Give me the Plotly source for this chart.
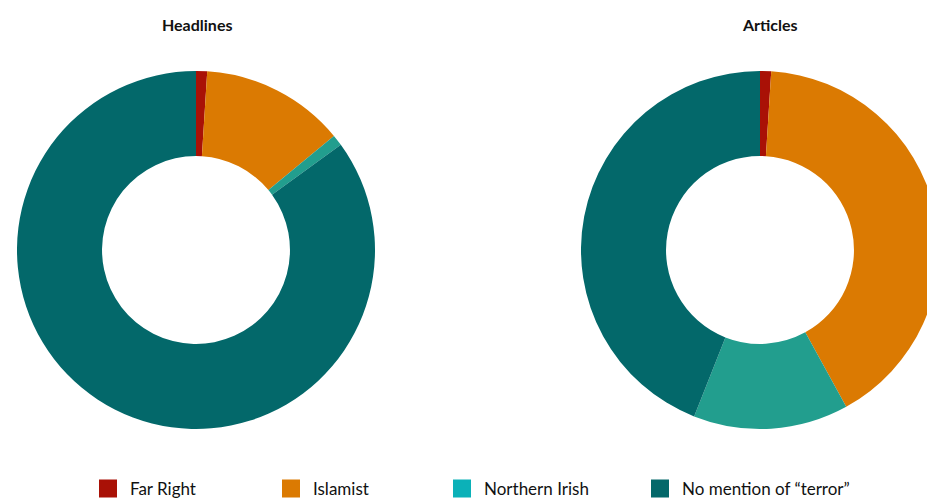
import plotly.graph_objects as go

categories = ["Far Right", "Islamist", "Northern Irish", "No mention of \u201cterror\u201d"]
headlines = [1, 13, 1, 85]
articles = [1, 41, 14, 44]
slice_colors = ["#A91106", "#DB7A02", "#229E8E", "#03686A"]
legend_colors = ["#A91106", "#DB7A02", "#0BB1B8", "#03686A"]

W, H = 935, 499
OFF = 8  # page body margin

def px(x):
    return (x - OFF) / W

def py(y):
    return 1 - (y - OFF) / H

def dom(cx, cy, r):
    return dict(x=[px(cx - r), px(cx + r)], y=[py(cy + r), py(cy - r)])

fig = go.Figure()
fig.add_trace(go.Pie(labels=categories, values=headlines, hole=0.525, sort=False,
                     direction="clockwise", rotation=0, textinfo="none",
                     marker=dict(colors=slice_colors, line=dict(width=0)),
                     domain=dom(196, 250, 179), showlegend=False, hoverinfo="label+percent"))
fig.add_trace(go.Pie(labels=categories, values=articles, hole=0.525, sort=False,
                     direction="clockwise", rotation=0, textinfo="none",
                     marker=dict(colors=slice_colors, line=dict(width=0)),
                     domain=dom(760, 250, 179), showlegend=False, hoverinfo="label+percent"))

legend_ids = ["legend", "legend2", "legend3", "legend4"]
legend_x = [86, 269, 440, 638]
for name, c, lid in zip(categories, legend_colors, legend_ids):
    fig.add_trace(go.Scatter(x=[None], y=[None], mode="markers", name=name, legend=lid,
                             marker=dict(symbol="square", size=16, color=c,
                                         line=dict(width=2, color=c))))

for txt, x in [("Headlines", 197), ("Articles", 770)]:
    fig.add_annotation(text="<b>%s</b>" % txt, x=px(x), y=py(24), xref="paper", yref="paper",
                       xanchor="center", yanchor="middle", showarrow=False,
                       font=dict(family="Lato", size=16, color="#111"))

legend_font = dict(family="Lato", size=17, color="#111")
layout_legends = {}
for lid, lx in zip(legend_ids, legend_x):
    layout_legends[lid] = dict(orientation="h", x=px(lx), xanchor="left", y=py(471),
                               yanchor="top", font=legend_font, itemwidth=34)

fig.update_layout(
    width=W, height=H, margin=dict(l=0, r=0, t=0, b=0, autoexpand=False),
    paper_bgcolor="white", plot_bgcolor="white",
    xaxis=dict(visible=False), yaxis=dict(visible=False),
    font=dict(family="Lato"),
    **layout_legends,
)
fig.write_html("out.html")
